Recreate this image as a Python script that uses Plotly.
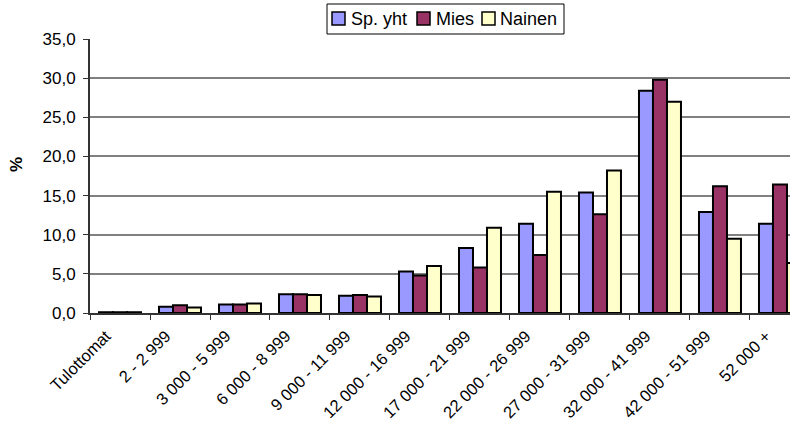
import plotly.graph_objects as go

categories = ["Tulottomat", "2 - 2 999", "3 000 - 5 999", "6 000 - 8 999", "9 000 - 11 999",
              "12 000 - 16 999", "17 000 - 21 999", "22 000 - 26 999", "27 000 - 31 999",
              "32 000 - 41 999", "42 000 - 51 999", "52 000 +"]
sp_yht = [0.1, 0.8, 1.1, 2.4, 2.2, 5.3, 8.3, 11.4, 15.4, 28.4, 12.9, 11.4]
mies = [0.1, 1.0, 1.1, 2.4, 2.3, 4.8, 5.8, 7.4, 12.6, 29.8, 16.2, 16.4]
nainen = [0.1, 0.7, 1.2, 2.3, 2.1, 6.0, 10.9, 15.5, 18.2, 27.0, 9.5, 6.4]

series = [("Sp. yht", sp_yht, "#9999FF"), ("Mies", mies, "#993366"), ("Nainen", nainen, "#FFFFCC")]

FONT = "Liberation Sans, Arial, sans-serif"
W, H = 790, 426
L, R, T, B = 90, 0, 39, 113
PW, PH = W - L - R, H - T - B

def px(x):
    return (x - L) / PW

def py(y):
    return (H - B - y) / PH

fig = go.Figure()
for name, vals, col in series:
    fig.add_trace(go.Bar(x=categories, y=vals, name=name, showlegend=False,
                         marker=dict(color=col, line=dict(color="black", width=2))))

# manual legend (box, swatches, labels)
shapes = [dict(type="rect", xref="paper", yref="paper", x0=px(327), x1=px(564), y0=py(34), y1=py(4),
               line=dict(color="black", width=1), fillcolor="white", layer="above")]
annotations = []
legend_pos = [(332, 349), (417, 434), (482, 498)]
for (name, vals, col), (sx, tx) in zip(series, legend_pos):
    shapes.append(dict(type="rect", xref="paper", yref="paper", x0=px(sx), x1=px(sx + 13),
                       y0=py(25), y1=py(12), line=dict(color="black", width=1.5), fillcolor=col,
                       layer="above"))
    annotations.append(dict(text=name, xref="paper", yref="paper", x=px(tx), y=py(19),
                            xanchor="left", yanchor="middle", showarrow=False,
                            font=dict(family=FONT, size=18, color="black")))
annotations.append(dict(text="<b>%</b>", xref="paper", yref="paper", x=px(16), y=py(165),
                        textangle=-90, showarrow=False, xanchor="center", yanchor="middle",
                        font=dict(family=FONT, size=17, color="black")))

fig.update_layout(
    width=W, height=H,
    margin=dict(l=L, r=R, t=T, b=B),
    paper_bgcolor="white", plot_bgcolor="white",
    barmode="group", bargap=0.3, bargroupgap=0,
    separators=", ",
    font=dict(family=FONT, size=17, color="black"),
    showlegend=False,
    shapes=shapes, annotations=annotations,
    xaxis=dict(range=[-0.5, 11.167], showgrid=False, showline=True, linecolor="#333333", linewidth=2,
               ticks="outside", ticklen=5, tickcolor="#333333", tickson="boundaries",
               tickangle=-45, tickfont=dict(size=16.5), automargin=False,
               ticklabelstandoff=5, ticklabelshift=-14),
    yaxis=dict(range=[0, 35], dtick=5, tickformat=".1f", showgrid=True, gridcolor="#808080", gridwidth=2,
               showline=True, linecolor="#333333", linewidth=2, ticks="outside", ticklen=5,
               tickcolor="#333333", zeroline=False, tickfont=dict(size=17), automargin=False,
               ticklabelstandoff=4),
)
fig.write_html("out.html", config={"displayModeBar": False},
               post_script="document.body.style.margin='0';")
